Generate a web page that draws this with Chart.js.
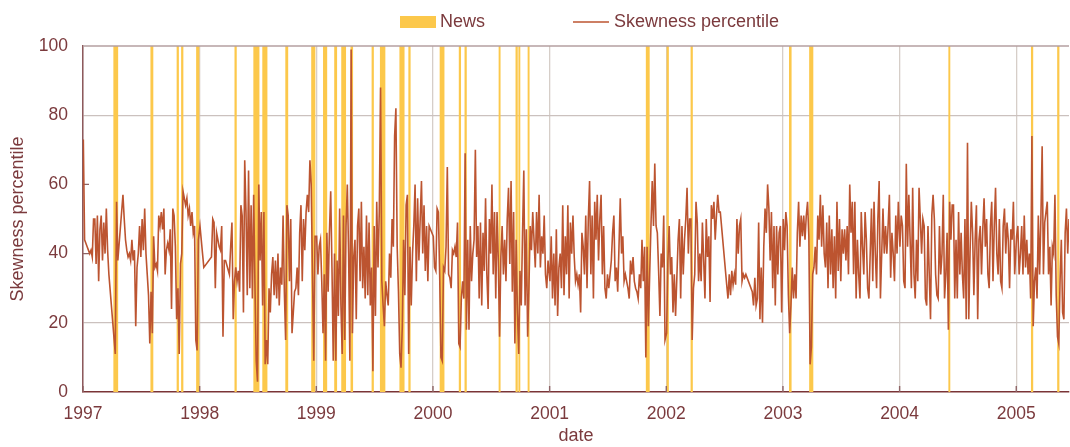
<!DOCTYPE html>
<html>
<head>
<meta charset="utf-8">
<script src="https://cdn.jsdelivr.net/npm/chart.js@4.4.1/dist/chart.umd.min.js"></script>
<style>
  html, body { margin: 0; padding: 0; background: #ffffff; }
  canvas { display: block; }
</style>
</head>
<body>
<canvas id="chart" width="1070" height="447"></canvas>
<script>
// Skewness percentile, one observation every 4 calendar days from 2 January of each year.
// null marks days without an observation; the line is joined across them.
const skew1997 = [73,44,43,42,41,40,41,39,50,50, 37,51,32,47,51,38,49,40,53,41, 34,null,null,null,null,11,55,38,null,null, null,57,50,44,41,39,40,38,44,38, 41,19,36,40,48,39,50,41,53,40, 34,28,14,29,17,45,36,37,35,51, 48,52,47,53,34,41,43,41,47,24, 53,51,42,21,30,11,37,40,58,56, 54,56,51,53,48,52,46,48,15,12, 44];
const skew1998 = [48,44,40,36,null,null,null,null,null,39, 50,49,30,46,44,42,41,48,16,38, 38,null,null,34,42,49,21,32,36,32, 35,29,54,51,23,67,52,28,64,30, 54,27,57,31,9,3,60,38,52,25, 52,8,15,8,30,23,34,39,28,38, 27,40,25,36,31,51,29,15,54,51, 32,50,17,23,29,30,36,28,46,54, 32,50,41,52,57,52,67,60,34,9, 45];
const skew1999 = [45,34,42,44,32,17,34,9,46,29, 46,58,36,9,40,9,38,22,53,25, 11,51,15,48,60,40,9,99,17,39, 44,21,48,53,32,55,30,42,27,51, 28,49,25,36,6,48,22,55,36,52, 88,32,25,19,32,28,25,40,33,50, 42,74,82,42,29,11,7,19,44,28, 54,57,11,42,25,40,48,60,32,56, 38,50,61,40,54,35,48,32,48,null, null];
const skew2000 = [45,36,35,53,52,34,10,9,36,35, 42,65,34,33,30,41,40,42,39,49, 14,13,27,32,27,69,18,44,18,48, 32,40,44,70,39,48,27,49,25,46, 35,56,34,24,50,40,60,34,52,27, 52,38,16,39,48,34,44,32,50,59, 37,61,29,52,14,44,23,11,35,25, 46,64,25,47,16,30,48,41,52,44, 36,52,40,57,36,45,40,51,34,30, 38];
const skew2001 = [32,45,27,40,25,47,22,36,40,30, 54,28,45,34,54,27,49,40,51,39, 32,34,31,34,23,46,42,34,51,30, 50,61,34,51,27,55,44,57,38,50, 57,34,48,30,27,34,30,34,38,46, 51,32,36,29,42,56,40,45,32,34, 32,30,27,38,34,39,32,30,29,27, 34,30,44,32,42,10,42,19,34,48, 61,48,66,48,46,35,22,40,36,51, 15];
const skew2002 = [17,38,48,34,39,23,34,22,33,44, 50,27,48,34,44,50,59,40,50,50, 15,30,34,55,49,32,40,32,49,38, 27,50,39,45,26,54,50,55,44,51, 57,52,52,null,null,null,null,31,27,34, 28,35,31,34,31,50,40,48,50,32, 34,33,34,null,null,null,null,29,25,33, 25,27,49,21,36,20,42,53,46,60, 53,38,52,30,48,25,48,34,46,48, 23];
const skew2003 = [50,41,52,48,28,17,25,36,27,34, 27,46,55,42,51,45,51,44,51,55, 45,8,13,34,36,42,34,51,44,57, 42,54,40,36,49,30,51,34,47,30, 45,27,55,35,50,32,47,40,47,38, 48,34,60,46,55,34,55,27,44,34, 27,52,42,34,52,44,30,27,40,53, 32,55,40,30,50,61,27,40,53,40, 48,40,48,57,33,46,40,32,51,40, 55];
const skew2004 = [42,51,48,32,30,66,42,57,44,30, 59,34,27,44,32,59,50,40,50,48, 27,25,48,34,21,51,57,50,34,28, 27,48,34,40,57,27,34,46,18,55, 44,54,54,27,44,27,52,34,46,34, 27,50,21,72,21,40,55,46,28,44, 54,21,44,48,34,47,56,42,50,34, 30,48,55,32,48,59,40,34,50,32, 30,48,53,40,49,44,30,47,44,55, 34];
const skew2005 = [45,48,34,40,48,34,51,36,44,34, 40,27,74,19,32,36,27,51,34,50, 71,34,49,52,55,34,42,25,42,40, 57,28,16,14,32,44,23,21,46,53, 40,50];

const seriesYears = [1997, 1998, 1999, 2000, 2001, 2002, 2003, 2004, 2005];
const seriesByYear = [skew1997, skew1998, skew1999, skew2000, skew2001, skew2002, skew2003, skew2004, skew2005];

// News periods (first and last day).
const newsStart = ['1997-04-06','1997-07-31','1997-10-21','1997-11-04','1997-12-21','1998-04-20','1998-06-18','1998-07-16','1998-09-26','1998-12-16','1999-01-22','1999-02-26','1999-03-20','1999-04-18','1999-06-23','1999-07-19','1999-09-18','1999-10-16','2000-01-22','2000-03-22','2000-04-09','2000-07-25','2000-09-16','2000-09-25','2000-10-24','2001-10-29','2002-01-02','2002-03-18','2003-01-20','2003-03-24','2004-06-02','2005-02-16','2005-05-09'];
const newsEnd   = ['1997-04-20','1997-08-08','1997-10-27','1997-11-10','1997-12-30','1998-04-26','1998-07-06','1998-07-31','1998-10-04','1998-12-28','1999-02-03','1999-03-06','1999-04-03','1999-04-25','1999-06-29','1999-08-04','1999-10-03','1999-10-22','2000-02-05','2000-03-28','2000-04-15','2000-07-30','2000-09-22','2000-09-30','2000-10-29','2001-11-09','2002-01-08','2002-03-24','2003-01-27','2003-04-05','2004-06-07','2005-02-22','2005-05-15'];

const yearTicks = [1997, 1998, 1999, 2000, 2001, 2002, 2003, 2004, 2005];
const percentileTicks = [0, 20, 40, 60, 80, 100];
const gridPercentiles = [20, 80];
const markPercentiles = [40, 60];
const DATE_MIN = '1997-01-01';
const DATE_MAX = '2005-06-15';
const STEP_DAYS = 4;

const FONT = "'Liberation Sans', Arial, Helvetica, sans-serif";
const TEXT = '#7b3a3d';
const LINE = '#bc5430';
const NEWS = '#fcc84b';

function daysIn(y) { return (y % 4 === 0 && (y % 100 !== 0 || y % 400 === 0)) ? 366 : 365; }
function toYear(s, endOfDay) {
  const [y, m, d] = s.split('-').map(Number);
  const doy = (Date.UTC(y, m - 1, d) - Date.UTC(y, 0, 1)) / 86400000;
  return y + (doy + (endOfDay ? 1 : 0)) / daysIn(y);
}

const skewPoints = [];
seriesYears.forEach((yr, k) => {
  seriesByYear[k].forEach((v, i) => {
    skewPoints.push({ x: yr + (1 + STEP_DAYS * i) / daysIn(yr), y: v });
  });
});

// Full-height bands for the news periods, behind the line.
const newsBands = {
  id: 'newsBands',
  beforeDatasetsDraw(chart) {
    const { ctx, chartArea: a, scales: { x } } = chart;
    ctx.save();
    ctx.beginPath();
    ctx.rect(a.left, a.top, a.right - a.left, a.bottom - a.top);
    ctx.clip();
    ctx.fillStyle = NEWS;
    newsStart.forEach((s, i) => {
      let x0 = x.getPixelForValue(toYear(s, false));
      let x1 = x.getPixelForValue(toYear(newsEnd[i], true));
      if (x1 - x0 < 1.8) { const m = (x0 + x1) / 2; x0 = m - 0.9; x1 = m + 0.9; }
      ctx.fillRect(x0, a.top, x1 - x0, a.bottom - a.top);
    });
    // short inward tick marks on both axes
    ctx.strokeStyle = '#8e6466';
    ctx.lineWidth = 1.4;
    const y = chart.scales.y;
    ctx.beginPath();
    yearTicks.forEach(t => {
      const px = x.getPixelForValue(t);
      ctx.moveTo(px, a.bottom); ctx.lineTo(px, a.bottom - 6);
    });
    markPercentiles.forEach(t => {
      const py = y.getPixelForValue(t);
      ctx.moveTo(a.left, py); ctx.lineTo(a.left + 6, py);
    });
    ctx.stroke();
    ctx.restore();
  },
  afterDatasetsDraw(chart) {
    const { ctx, chartArea: a } = chart;
    ctx.save();
    ctx.strokeStyle = '#b59fa0';
    ctx.lineWidth = 1.6;
    ctx.beginPath();
    ctx.moveTo(a.left, a.top); ctx.lineTo(a.right, a.top);
    ctx.stroke();
    ctx.restore();
  }
};

// Legend row above the plot.
const legendRow = {
  id: 'legendRow',
  afterDraw(chart) {
    const ctx = chart.ctx;
    ctx.save();
    ctx.fillStyle = NEWS;
    ctx.fillRect(400, 16, 36, 12);
    ctx.strokeStyle = LINE;
    ctx.lineWidth = 1.5;
    ctx.beginPath();
    ctx.moveTo(573, 22); ctx.lineTo(609, 22);
    ctx.stroke();
    ctx.font = '18px ' + FONT;
    ctx.fillStyle = TEXT;
    ctx.textBaseline = 'middle';
    ctx.textAlign = 'left';
    ctx.fillText('News', 440, 22);
    ctx.fillText('Skewness percentile', 614, 22);
    ctx.restore();
  }
};

new Chart(document.getElementById('chart'), {
  type: 'line',
  data: {
    datasets: [{
      label: 'Skewness percentile',
      data: skewPoints,
      borderColor: LINE,
      backgroundColor: LINE,
      borderWidth: 1.6,
      pointRadius: 0,
      tension: 0,
      spanGaps: true,
      fill: false
    }]
  },
  options: {
    responsive: false,
    animation: false,
    events: [],
    layout: { padding: { top: 46, right: 1, left: 0, bottom: 0 } },
    plugins: { legend: { display: false }, tooltip: { enabled: false } },
    scales: {
      x: {
        type: 'linear',
        min: toYear(DATE_MIN, false),
        max: toYear(DATE_MAX, false),
        afterBuildTicks: s => { s.ticks = yearTicks.map(v => ({ value: v })); },
        afterFit: s => { s.height = 55; },
        ticks: {
          autoSkip: false, maxRotation: 0, padding: 12,
          color: TEXT, font: { family: FONT, size: 17.5 },
          callback: v => String(v)
        },
        grid: { color: '#d6cec8', lineWidth: 1.3, drawTicks: false },
        border: { color: '#7a3436', width: 1.5 },
        title: { display: true, text: 'date', color: TEXT, font: { family: FONT, size: 18 }, padding: 0 }
      },
      y: {
        min: 0, max: 100,
        afterBuildTicks: s => { s.ticks = percentileTicks.map(v => ({ value: v })); },
        afterFit: s => { s.width = 83; },
        ticks: { padding: 15, color: TEXT, font: { family: FONT, size: 17.5 } },
        grid: {
          color: c => (c.tick && gridPercentiles.includes(c.tick.value)) ? '#cbc1be' : 'rgba(0,0,0,0)',
          lineWidth: 1.3, drawTicks: false
        },
        border: { color: '#8d5a5d', width: 1.5 },
        title: { display: true, text: 'Skewness percentile', color: TEXT, font: { family: FONT, size: 18 }, padding: { top: 7, bottom: 0 } }
      }
    }
  },
  plugins: [newsBands, legendRow]
});
</script>
</body>
</html>
